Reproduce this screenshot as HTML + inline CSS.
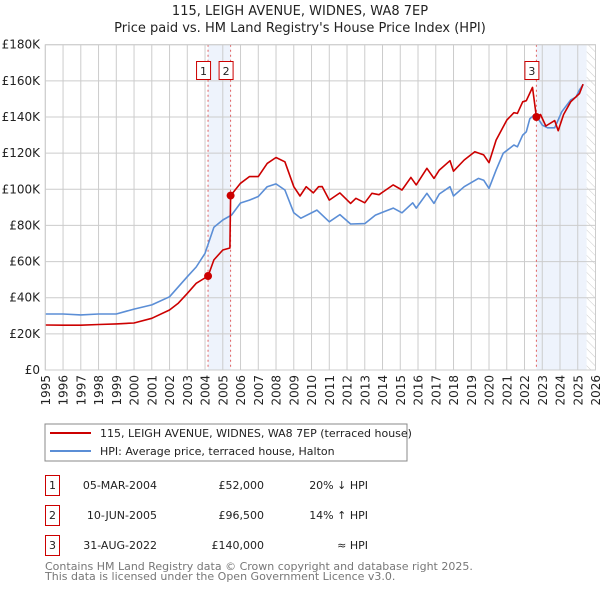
<!DOCTYPE html>
<html><head><meta charset="utf-8"><style>
body{margin:0;background:#fff;font-family:"DejaVu Sans","Liberation Sans",sans-serif;}
svg text{font-family:"DejaVu Sans","Liberation Sans",sans-serif;}
</style></head><body>
<svg id="chart" width="600" height="590" viewBox="0 0 600 590" xmlns="http://www.w3.org/2000/svg">
<defs><pattern id="hatch" width="6" height="6" patternUnits="userSpaceOnUse" patternTransform="rotate(-45)"><line x1="0" y1="0" x2="0" y2="6" stroke="#ccc" stroke-width="1"/></pattern></defs>
<text x="300" y="15" text-anchor="middle" font-size="13" fill="#222">115, LEIGH AVENUE, WIDNES, WA8 7EP</text>
<text x="300" y="32" text-anchor="middle" font-size="13" fill="#222">Price paid vs. HM Land Registry's House Price Index (HPI)</text>
<g id="plot"></g>
<rect x="45" y="424" width="362" height="37" fill="#fff" stroke="#888"/>
<line x1="50" y1="433" x2="91" y2="433" stroke="#cc0000" stroke-width="2"/>
<text x="100" y="437" font-size="11" fill="#222">115, LEIGH AVENUE, WIDNES, WA8 7EP (terraced house)</text>
<line x1="50" y1="451" x2="91" y2="451" stroke="#5b8ed6" stroke-width="2"/>
<text x="100" y="455" font-size="11" fill="#222">HPI: Average price, terraced house, Halton</text>
<g font-size="11" fill="#222">
<rect x="45.5" y="475.5" width="14" height="20" fill="#fff" stroke="#cc0000"/>
<text x="52.5" y="489" text-anchor="middle">1</text>
<text x="157" y="489" text-anchor="end">05-MAR-2004</text>
<text x="264" y="489" text-anchor="end">£52,000</text>
<text x="368" y="489" text-anchor="end">20% ↓ HPI</text>
<rect x="45.5" y="505.5" width="14" height="20" fill="#fff" stroke="#cc0000"/>
<text x="52.5" y="519" text-anchor="middle">2</text>
<text x="157" y="519" text-anchor="end">10-JUN-2005</text>
<text x="264" y="519" text-anchor="end">£96,500</text>
<text x="368" y="519" text-anchor="end">14% ↑ HPI</text>
<rect x="45.5" y="535.5" width="14" height="20" fill="#fff" stroke="#cc0000"/>
<text x="52.5" y="549" text-anchor="middle">3</text>
<text x="157" y="549" text-anchor="end">31-AUG-2022</text>
<text x="264" y="549" text-anchor="end">£140,000</text>
<text x="368" y="549" text-anchor="end">≈ HPI</text>
</g>
<text x="45" y="570" font-size="11" fill="#777">Contains HM Land Registry data © Crown copyright and database right 2025.</text>
<text x="45" y="580" font-size="11" fill="#777">This data is licensed under the Open Government Licence v3.0.</text>
</svg>
<script>
const yTicks=[0,20000,40000,60000,80000,100000,120000,140000,160000,180000];
const yTickLabels=["£0","£20K","£40K","£60K","£80K","£100K","£120K","£140K","£160K","£180K"];
const years=[1995,1996,1997,1998,1999,2000,2001,2002,2003,2004,2005,2006,2007,2008,2009,2010,2011,2012,2013,2014,2015,2016,2017,2018,2019,2020,2021,2022,2023,2024,2025,2026];
const hpiT=[1995,1996,1997,1998,1999,2000,2001,2002,2003,2003.5,2004,2004.5,2005,2005.5,2006,2006.5,2007,2007.5,2008,2008.5,2009,2009.4,2010.3,2011.0,2011.6,2012.2,2013.0,2013.6,2014.6,2015.1,2015.7,2015.9,2016.5,2016.9,2017.2,2017.8,2018.0,2018.6,2019.4,2019.7,2020.0,2020.4,2020.8,2021.4,2021.6,2021.9,2022.1,2022.3,2022.6,2023.0,2023.3,2023.7,2024.1,2024.6,2024.9,2025.1,2025.3];
const hpiV=[31000,31000,30500,31000,31000,33700,36000,40500,51600,57000,64500,79000,83000,85800,92400,94000,96000,101400,103000,99600,87000,84000,88500,82000,86000,80800,81000,85700,89600,87000,92500,89600,97800,92200,97400,101400,96300,101400,106000,105000,100500,110600,119900,124500,123500,130000,131800,139000,141600,135500,134000,134000,142900,149400,151000,155000,158000];
const priceT=[1995,1996,1997,1998,1999,2000,2001,2002,2002.5,2003,2003.5,2004.17,2004.5,2005,2005.4,2005.44,2006,2006.5,2007,2007.5,2008,2008.5,2009,2009.35,2009.7,2010.1,2010.4,2010.6,2011.0,2011.6,2012.2,2012.5,2013.0,2013.4,2013.8,2014.6,2015.1,2015.6,2015.9,2016.5,2016.9,2017.2,2017.8,2018.0,2018.6,2019.2,2019.7,2020.0,2020.4,2021.0,2021.4,2021.6,2021.9,2022.1,2022.45,2022.67,2022.9,2023.2,2023.7,2023.9,2024.2,2024.6,2025.1,2025.3];
const priceV=[24900,24800,24800,25200,25500,26000,28600,33200,37000,42400,48000,52000,60900,66400,67500,96500,103300,107000,107000,114300,117600,115200,101400,96300,101400,98000,101400,101500,94000,98000,92200,95000,92500,97800,97000,102400,99600,106600,102400,111600,106000,110600,115800,110000,116200,120800,119000,114700,127200,138300,142400,142000,148400,149000,156400,140000,141400,135000,138000,132400,141400,148400,153000,158200];
const saleT=[2004.17,2005.44,2022.67];
const saleV=[52000,96500,140000];
const saleLabels=["1","2","3"];
const NS="http://www.w3.org/2000/svg";
const X0=45.3,X1=595.5,Y0=370,Y1=44.7;
function xs(t){return X0+(t-1995)/(2026-1995)*(X1-X0);}
function ys(v){return Y0-v/180000*(Y0-Y1);}
const g=document.getElementById('plot');
function mk(tag,attrs){const e=document.createElementNS(NS,tag);for(const k in attrs)e.setAttribute(k,attrs[k]);g.appendChild(e);return e;}
let s=mk('rect',{x:xs(saleT[0]),y:Y1,width:xs(saleT[1])-xs(saleT[0]),height:Y0-Y1,fill:'#eef3fc'});


s=mk('rect',{x:xs(saleT[2]),y:Y1,width:xs(2025.5)-xs(saleT[2]),height:Y0-Y1,fill:'#eef3fc'});


s=mk('rect',{x:xs(2025.5),y:Y1,width:X1-xs(2025.5),height:Y0-Y1,fill:'url(#hatch)'});


yTicks.forEach((v,i)=>{
 const l=mk('line',{x1:X0,x2:X1,y1:ys(v),y2:ys(v),stroke:'#ccc','stroke-width':1});
 
 
 const t=mk('text',{x:40,y:ys(v)+4,'text-anchor':'end','font-size':12,fill:'#222'});
 t.textContent=yTickLabels[i];
 
 
});
years.forEach(y=>{
 const l=mk('line',{x1:xs(y),x2:xs(y),y1:Y1,y2:Y0,stroke:'#ccc','stroke-width':1});
 
 
 const t=mk('text',{x:0,y:0,'text-anchor':'end','font-size':12,fill:'#222',transform:`translate(${xs(y)+4.5},375) rotate(-90)`});
 t.textContent=y;
 
 
});
saleT.forEach((t,i)=>{
 const l=mk('line',{x1:xs(t),x2:xs(t),y1:Y1,y2:Y0,stroke:'#e06060','stroke-width':1,'stroke-dasharray':'2,3'});
 
 
});
function path(T,V,color,name){
 let d='';T.forEach((t,i)=>{d+=(i?'L':'M')+xs(t).toFixed(1)+','+ys(V[i]).toFixed(1);});
 const p=mk('path',{d:d,fill:'none',stroke:color,'stroke-width':1.6,'stroke-linejoin':'round'});
 
 
}
path(hpiT,hpiV,'#5b8ed6','hpi-line');
path(priceT,priceV,'#cc0000','price-line');
saleT.forEach((t,i)=>{
 const c=mk('circle',{cx:xs(t),cy:ys(saleV[i]),r:4,fill:'#cc0000'});
 
 
 const bx=xs(t)-11;
 const r=mk('rect',{x:bx-0.5,y:61.5,width:14,height:18,fill:'#fff',stroke:'#cc0000'});
 
 
 const tx=mk('text',{x:bx+6.5,y:75,'text-anchor':'middle','font-size':11,fill:'#222'});
 tx.textContent=saleLabels[i];
 
 
});
const fr=mk('rect',{x:X0,y:Y1,width:X1-X0,height:Y0-Y1,fill:'none',stroke:'#ccc'});


</script>
</body></html>
